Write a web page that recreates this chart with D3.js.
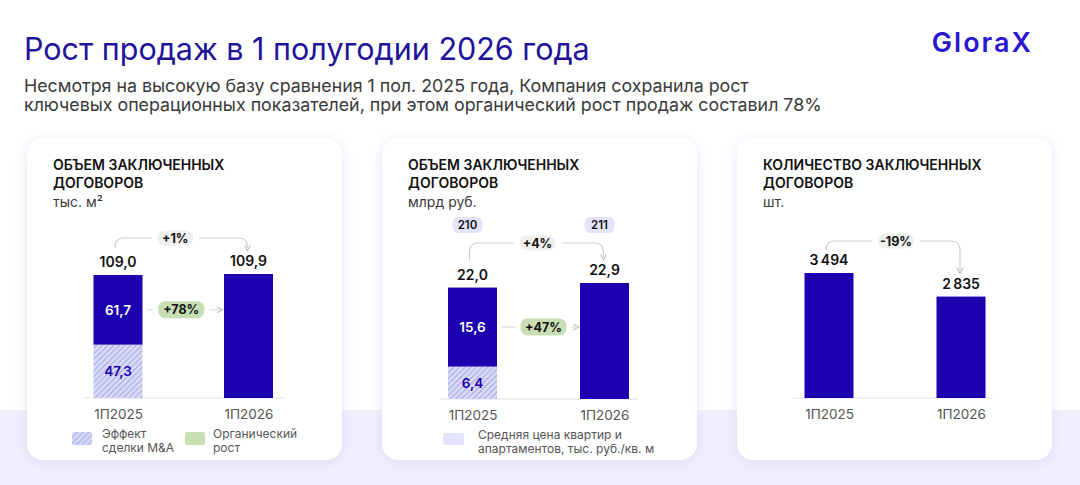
<!DOCTYPE html>
<html><head><meta charset="utf-8">
<script src="https://cdn.jsdelivr.net/npm/d3@7"></script>
<style>
html,body{margin:0;padding:0;background:#fff;}
svg{display:block;font-family:Inter,"Noto Sans",sans-serif;}
</style></head>
<body>
<svg id="chart" width="1080" height="485"></svg>
<script>
// ---- data ----
const categories = ["1П2025", "1П2026"];
const areaMA = [47.3, 0];
const areaOrganic = [61.7, 109.9];
const areaTotal = [109.0, 109.9];
const salesMA = [6.4, 0];
const salesOrganic = [15.6, 22.9];
const salesTotal = [22.0, 22.9];
const avgPrice = [210, 211];
const contracts = [3494, 2835];
const changeLabels = { area: "+1%", areaOrganic: "+78%", sales: "+4%", salesOrganic: "+47%", contracts: "-19%" };

const titleText = "Рост продаж в 1 полугодии 2026 года";
const subtitleLines = [
  "Несмотря на высокую базу сравнения 1 пол. 2025 года, Компания сохранила рост",
  "ключевых операционных показателей, при этом органический рост продаж составил 78%"
];

// ---- styles ----
const C = {
  bar: "#1c00b0", title: "#22139a", text: "#111", sub: "#3a3a3a", gray: "#555",
  band: "#f0eefc", line: "#cfcfcf", badge: "#efefef", green: "#c8dfb4", price: "#e3e4fa",
  hatchBg: "#d7d9f5", hatchLine: "#8f93e2"
};
const fmt = v => d3.format(".1f")(v).replace(".", ",");
const fmtInt = v => d3.format(",")(v).replace(/,/g, "\u2009");

const svg = d3.select("#chart");
const defs = svg.append("defs");
const pat = defs.append("pattern").attr("id", "hatch").attr("patternUnits", "userSpaceOnUse")
  .attr("width", 4).attr("height", 4).attr("patternTransform", "rotate(45)");
pat.append("rect").attr("width", 4).attr("height", 4).attr("fill", C.hatchBg);
pat.append("line").attr("x1", 0).attr("y1", 0).attr("x2", 0).attr("y2", 4)
  .attr("stroke", C.hatchLine).attr("stroke-width", 1.4);
const flt = defs.append("filter").attr("id", "shadow").attr("x", "-20%").attr("y", "-20%").attr("width", "140%").attr("height", "140%");
flt.append("feDropShadow").attr("dx", 0).attr("dy", 2).attr("stdDeviation", 6)
  .attr("flood-color", "#c9c3f0").attr("flood-opacity", 0.45);
const mk = defs.append("marker").attr("id", "arrow").attr("viewBox", "0 0 10 10")
  .attr("refX", 5).attr("refY", 5).attr("markerWidth", 6).attr("markerHeight", 6).attr("orient", "auto-start-reverse");
mk.append("path").attr("d", "M1,1 L9,5 L1,9").attr("fill", "none").attr("stroke", "#bdbdbd").attr("stroke-width", 1.5);

// background band
svg.append("rect").attr("x", 0).attr("y", 410).attr("width", 1080).attr("height", 75).attr("fill", C.band);

// header
svg.append("text").attr("x", 24).attr("y", 60).attr("fill", C.title)
  .attr("font-size", 30.5).attr("font-weight", 400).text(titleText);
subtitleLines.forEach((t, i) => svg.append("text").attr("x", 24).attr("y", 92 + i * 19)
  .attr("fill", C.sub).attr("font-size", 17.8).text(t));
svg.append("text").attr("x", 1033).attr("y", 52).attr("text-anchor", "end").attr("fill", "#2a17cf")
  .attr("font-size", 27).attr("font-weight", 600).attr("letter-spacing", "2").text("GloraX");

// cards
const cards = [
  { x: 27, title: ["ОБЪЕМ ЗАКЛЮЧЕННЫХ", "ДОГОВОРОВ"], unit: "тыс. м²" },
  { x: 382, title: ["ОБЪЕМ ЗАКЛЮЧЕННЫХ", "ДОГОВОРОВ"], unit: "млрд руб." },
  { x: 737, title: ["КОЛИЧЕСТВО ЗАКЛЮЧЕННЫХ", "ДОГОВОРОВ"], unit: "шт." }
];
cards.forEach(c => {
  svg.append("rect").attr("x", c.x).attr("y", 138).attr("width", 315).attr("height", 322)
    .attr("rx", 16).attr("fill", "#fff").attr("filter", "url(#shadow)");
  c.title.forEach((t, i) => svg.append("text").attr("x", c.x + 26).attr("y", 170 + i * 18)
    .attr("font-size", 14).attr("font-weight", 600).attr("fill", C.text).text(t));
  svg.append("text").attr("x", c.x + 26).attr("y", 207).attr("font-size", 14).attr("fill", C.sub).text(c.unit);
});

function badge(g, cx, cy, w, h, text, fill) {
  g.append("rect").attr("x", cx - w / 2).attr("y", cy - h / 2).attr("width", w).attr("height", h)
    .attr("rx", 7).attr("fill", fill);
  g.append("text").attr("x", cx).attr("y", cy + 4.5).attr("text-anchor", "middle")
    .attr("font-size", 12.5).attr("font-weight", 700).attr("fill", C.text).text(text);
}
function connector(g, x1, y1, x2, y2, yTop, cx, bw) {
  const r = 9;
  g.append("path").attr("d", `M${x1},${y1} V${yTop + r} Q${x1},${yTop} ${x1 + r},${yTop} H${cx - bw / 2 - 6}`)
    .attr("fill", "none").attr("stroke", C.line).attr("stroke-width", 1.2);
  g.append("path").attr("d", `M${cx + bw / 2 + 6},${yTop} H${x2 - r} Q${x2},${yTop} ${x2},${yTop + r} V${y2}`)
    .attr("fill", "none").attr("stroke", C.line).attr("stroke-width", 1.2).attr("marker-end", "url(#arrow)");
}
function midArrow(g, xa, xb, cy, bw, cx) {
  g.append("line").attr("x1", xa).attr("x2", cx - bw / 2 - 5).attr("y1", cy).attr("y2", cy)
    .attr("stroke", "#dcdcdc").attr("stroke-width", 1.2);
  g.append("line").attr("x1", cx + bw / 2 + 5).attr("x2", xb).attr("y1", cy).attr("y2", cy)
    .attr("stroke", "#dcdcdc").attr("stroke-width", 1.2).attr("marker-end", "url(#arrow)");
}

function panel(opts) {
  const g = svg.append("g");
  const x = d3.scalePoint().domain(categories).range(opts.xr);
  const y = d3.scaleLinear().domain([0, opts.ymax]).range([opts.base, opts.top]);
  const bw = 49;
  g.append("line").attr("x1", opts.axis[0]).attr("x2", opts.axis[1]).attr("y1", opts.base).attr("y2", opts.base)
    .attr("stroke", "#e2e2e2").attr("stroke-width", 1.2);
  const rows = categories.map((c, i) => ({ c, ma: opts.ma ? opts.ma[i] : 0, org: opts.org[i], tot: opts.tot[i] }));
  rows.forEach(d => {
    if (d.ma > 0) {
      g.append("rect").attr("x", x(d.c) - bw / 2).attr("width", bw)
        .attr("y", y(d.ma)).attr("height", y(0) - y(d.ma)).attr("fill", "url(#hatch)");
      g.append("text").attr("x", x(d.c)).attr("y", (y(0) + y(d.ma)) / 2 + 5).attr("text-anchor", "middle")
        .attr("font-size", 13.5).attr("font-weight", 600).attr("fill", C.bar).text(fmt(d.ma));
    }
    g.append("rect").attr("x", x(d.c) - bw / 2).attr("width", bw)
      .attr("y", y(d.ma + d.org)).attr("height", y(d.ma) - y(d.ma + d.org)).attr("fill", C.bar);
    if (d.ma > 0) {
      g.append("text").attr("x", x(d.c)).attr("y", (y(d.ma) + y(d.ma + d.org)) / 2 + 5).attr("text-anchor", "middle")
        .attr("font-size", 13.5).attr("font-weight", 600).attr("fill", "#fff").text(fmt(d.org));
    }
    g.append("text").attr("x", x(d.c)).attr("y", y(d.tot) - 8).attr("text-anchor", "middle")
      .attr("font-size", 14).attr("font-weight", 600).attr("fill", C.text).text(opts.fmt(d.tot));
  });
  const ax = g.append("g").attr("transform", `translate(0,${opts.base + 21})`)
    .call(d3.axisBottom(x).tickSize(0).tickPadding(0));
  ax.select(".domain").remove();
  ax.selectAll("text").attr("dy", null).attr("y", 0).attr("font-size", 13.5).attr("fill", C.gray)
    .attr("font-family", "Inter,'Noto Sans',sans-serif");
  const c0 = x(categories[0]), c1 = x(categories[1]);
  const bx = (c0 + c1) / 2 + opts.badgeDx;
  const yEnd = y(opts.tot[1]) - 26;
  connector(g, c0 - 3, y(opts.tot[0]) - 27, c1 - 1, yEnd, opts.yTop, bx, 36);
  badge(g, bx, opts.yTop, 36, 15, opts.change, C.badge);
  if (opts.orgChange) {
    const my = (y(opts.ma[0]) + y(opts.tot[0])) / 2;
    midArrow(g, c0 + bw / 2 + 4, c1 - bw / 2 - 4, my, 46, bx + 6);
    badge(g, bx + 6, my, 46, 17, opts.orgChange, C.green);
  }
  if (opts.price) {
    categories.forEach((c, i) => {
      g.append("rect").attr("x", x(c) - 5 - 15).attr("y", 217).attr("width", 30).attr("height", 16).attr("rx", 6).attr("fill", C.price);
      g.append("text").attr("x", x(c) - 5).attr("y", 229).attr("text-anchor", "middle").attr("font-size", 11.5)
        .attr("font-weight", 600).attr("fill", C.text).text(opts.price[i]);
    });
  }
  return g;
}

panel({ xr: [118, 248.5], axis: [83, 283], base: 398, top: 274, ymax: 109.9,
  ma: areaMA, org: areaOrganic, tot: areaTotal, fmt: fmt, change: changeLabels.area,
  orgChange: changeLabels.areaOrganic, yTop: 238, badgeDx: -8 });
panel({ xr: [472.5, 604.5], axis: [440, 638], base: 399, top: 283, ymax: 22.9,
  ma: salesMA, org: salesOrganic, tot: salesTotal, fmt: fmt, change: changeLabels.sales,
  orgChange: changeLabels.salesOrganic, yTop: 243, badgeDx: -1, price: avgPrice });
panel({ xr: [829, 961], axis: [793, 993], base: 398, top: 273, ymax: 3494,
  ma: null, org: contracts, tot: contracts, fmt: fmtInt, change: changeLabels.contracts,
  yTop: 241, badgeDx: 1 });

// legends
const lg1 = svg.append("g");
lg1.append("rect").attr("x", 72).attr("y", 432).attr("width", 20).attr("height", 13).attr("rx", 2).attr("fill", "url(#hatch)");
["Эффект", "сделки M&A"].forEach((t, i) => lg1.append("text").attr("x", 102).attr("y", 438 + i * 14)
  .attr("font-size", 12).attr("fill", C.gray).text(t));
lg1.append("rect").attr("x", 185).attr("y", 432).attr("width", 20).attr("height", 13).attr("rx", 2).attr("fill", C.green);
["Органический", "рост"].forEach((t, i) => lg1.append("text").attr("x", 213).attr("y", 438 + i * 14)
  .attr("font-size", 12).attr("fill", C.gray).text(t));
const lg2 = svg.append("g");
lg2.append("rect").attr("x", 443).attr("y", 433).attr("width", 21).attr("height", 12).attr("rx", 2).attr("fill", C.price);
["Средняя цена квартир и", "апартаментов, тыс. руб./кв. м"].forEach((t, i) => lg2.append("text").attr("x", 478).attr("y", 439 + i * 14)
  .attr("font-size", 12).attr("fill", C.gray).text(t));
</script>
</body></html>
